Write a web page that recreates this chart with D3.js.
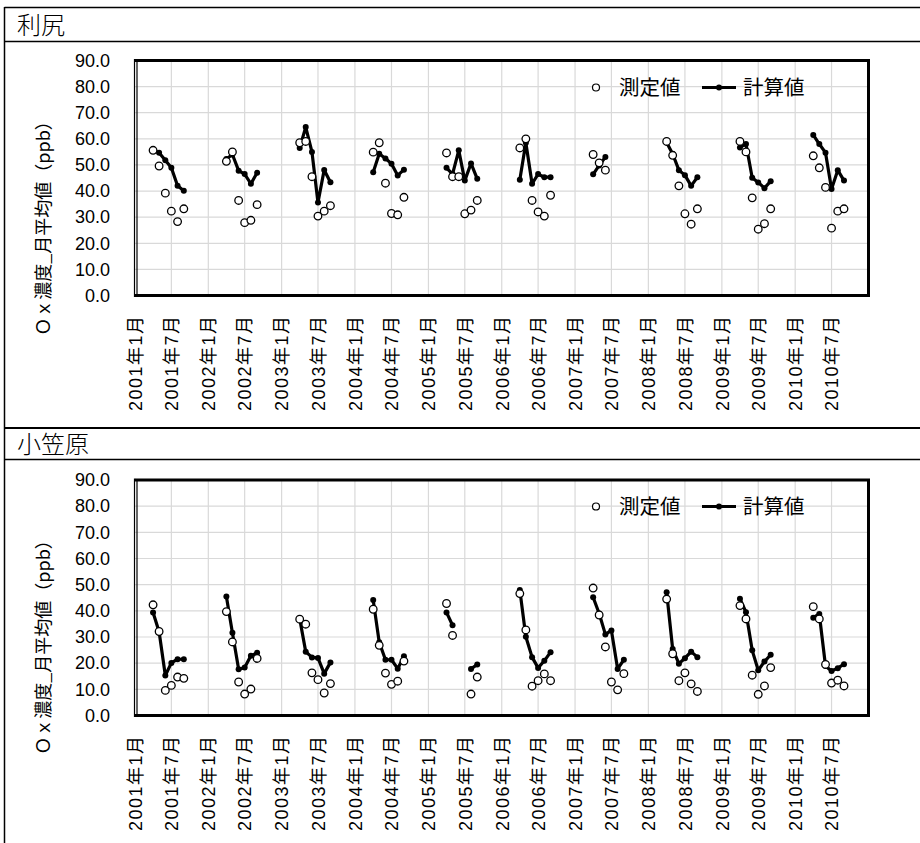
<!DOCTYPE html>
<html><head><meta charset="utf-8">
<script src="https://cdn.jsdelivr.net/npm/d3@7"></script>
<style>body{margin:0;background:#fff} svg{display:block}</style>
</head><body>
<svg id="c" width="920" height="843"></svg>
<script>
// ---------- data ----------
const years = [2001, 2002, 2003, 2004, 2005, 2006, 2007, 2008, 2009, 2010];
const months = [4, 5, 6, 7, 8, 9];
const xTickLabels = ["2001年1月","2001年7月","2002年1月","2002年7月","2003年1月","2003年7月",
  "2004年1月","2004年7月","2005年1月","2005年7月","2006年1月","2006年7月","2007年1月","2007年7月",
  "2008年1月","2008年7月","2009年1月","2009年7月","2010年1月","2010年7月"];
const yTicks = [0, 10, 20, 30, 40, 50, 60, 70, 80, 90];
const legendLabels = ["測定値", "計算値"];
const panelTitles = ["利尻", "小笠原"];
const yAxisTitle = "Ｏｘ濃度_月平均値（ppb）";

// 利尻 (Apr..Sep per year)
const rishiriMeasured = [
  55.6, 49.6, 39.2, 32.3, 28.3, 33.2,
  51.4, 55.0, 36.4, 27.9, 28.8, 34.8,
  58.5, 59.0, 45.5, 30.4, 32.3, 34.4,
  54.9, 58.5, 43.0, 31.4, 30.9, 37.6,
  54.6, 45.5, 45.5, 31.3, 32.7, 36.4,
  56.5, 60.0, 36.4, 32.0, 30.4, 38.4,
  54.0, 50.8, 48.0, null, null, null,
  59.0, 53.7, 42.0, 31.3, 27.3, 33.2,
  59.0, 55.0, 37.4, 25.4, 27.5, 33.2,
  53.5, 48.9, 41.4, 25.8, 32.3, 33.2
];
const rishiriCalc = [
  55.5, 54.7, 51.8, 48.9, 42.0, 40.1,
  52.3, 54.0, 47.8, 46.5, 42.8, 47.0,
  56.5, 64.5, 55.0, 35.6, 48.1, 43.4,
  47.2, 54.3, 52.5, 50.5, 46.0, 48.2,
  48.9, 46.5, 55.6, 44.0, 50.6, 44.7,
  44.3, 58.5, 42.8, 46.5, 45.3, 45.3,
  46.4, 49.8, 53.0, null, null, null,
  58.6, 54.2, 48.0, 46.1, 42.0, 45.3,
  56.7, 58.0, 45.1, 43.3, 41.1, 43.8,
  61.5, 58.0, 54.7, 40.8, 48.0, 44.0
];
// 小笠原
const ogasawaraMeasured = [
  42.3, 32.1, 9.6, 11.5, 14.7, 14.2,
  39.7, 28.1, 12.8, 8.2, 10.1, 21.8,
  36.8, 34.9, 16.3, 13.7, 8.6, 12.2,
  40.6, 26.8, 16.2, 11.9, 13.1, 20.8,
  42.8, 30.6, null, null, 8.2, 14.7,
  46.6, 32.7, 11.2, 13.3, 15.9, 13.3,
  48.7, 38.4, 26.2, 12.8, 9.8, 16.0,
  44.5, 23.6, 13.3, 16.3, 12.1, 9.2,
  42.0, 36.9, 15.4, 8.1, 11.3, 18.3,
  41.6, 36.9, 19.5, 12.4, 13.5, 11.3
];
const ogasawaraCalc = [
  39.4, 32.0, 15.3, 20.1, 21.5, 21.5,
  45.5, 31.6, 17.7, 18.3, 22.8, 24.0,
  37.0, 24.4, 22.2, 22.0, 16.0, 20.3,
  44.1, 28.0, 21.3, 21.3, 17.9, 22.6,
  39.4, 34.5, null, null, 17.8, 19.5,
  48.0, 30.1, 22.3, 18.2, 20.9, 24.2,
  45.2, 39.0, 31.0, 32.5, 17.8, 21.3,
  47.1, 25.4, 19.8, 21.9, 24.4, 22.3,
  44.6, 39.5, 24.9, 17.3, 20.6, 23.2,
  37.4, 38.8, 18.9, 17.0, 18.1, 19.6
];

// ---------- drawing ----------
const svg = d3.select("#c");
const W = 920, H = 843;
const CJK = "'Noto Sans CJK JP', 'Noto Sans', sans-serif";
const LAT = "'Liberation Sans', Arial, 'Noto Sans CJK JP', sans-serif";

// table frame
const frame = svg.append("g").attr("stroke", "#000").attr("fill", "none");
frame.append("line").attr("x1", 4.5).attr("x2", W).attr("y1", 7.5).attr("y2", 7.5).attr("stroke-width", 1.5);
frame.append("line").attr("x1", 4.5).attr("x2", 4.5).attr("y1", 7).attr("y2", H).attr("stroke-width", 1.5);
frame.append("line").attr("x1", 4.5).attr("x2", W).attr("y1", 41.5).attr("y2", 41.5).attr("stroke-width", 1.5);
frame.append("line").attr("x1", 4.5).attr("x2", W).attr("y1", 428).attr("y2", 428).attr("stroke-width", 2);
frame.append("line").attr("x1", 4.5).attr("x2", W).attr("y1", 459.5).attr("y2", 459.5).attr("stroke-width", 1.5);

const x = d3.scaleTime()
  .domain([new Date(2001, 0, 1), new Date(2011, 0, 1)])
  .range([135, 868.5]);
const tickDates = xTickLabels.map((_, i) => new Date(2001 + Math.floor(i / 2), (i % 2) * 6, 1));

const panels = [
  { title: panelTitles[0], titleY: 34, top: 60.5, bottom: 295.5, measured: rishiriMeasured, calc: rishiriCalc, legendY: 87.5, axisTitleY: 224 },
  { title: panelTitles[1], titleY: 453, top: 480, bottom: 715.5, measured: ogasawaraMeasured, calc: ogasawaraCalc, legendY: 506.5, axisTitleY: 643 }
];

function seriesByYear(vals) {
  return years.map((yr, i) => months.map((m, j) => ({ date: new Date(yr, m - 1, 1), v: vals[i * 6 + j] })));
}

panels.forEach(p => {
  const g = svg.append("g");
  const y = d3.scaleLinear().domain([0, 90]).range([p.bottom, p.top]);
  const [x0, x1] = x.range();

  // title
  g.append("text").attr("x", 17).attr("y", p.titleY)
    .attr("font-family", CJK).attr("font-size", 24).attr("font-weight", 300)
    .text(p.title);

  // gridlines
  const grid = g.append("g").attr("stroke", "#d9d9d9").attr("stroke-width", 1.2);
  grid.selectAll("line.h").data(yTicks.filter(t => t > 0 && t < 90)).join("line")
    .attr("x1", x0).attr("x2", x1).attr("y1", d => y(d)).attr("y2", d => y(d));
  grid.selectAll("line.v").data(tickDates.slice(1)).join("line")
    .attr("x1", d => x(d)).attr("x2", d => x(d)).attr("y1", p.top).attr("y2", p.bottom);

  // plot border
  g.append("path")
    .attr("d", `M${x0},${p.top}H${x1}V${p.bottom}H${x0}`)
    .attr("fill", "none").attr("stroke", "#000").attr("stroke-width", 3);
  g.append("line").attr("x1", x0 - 0.5).attr("x2", x0 - 0.5).attr("y1", p.top - 1.5).attr("y2", p.bottom + 1.5)
    .attr("stroke", "#000").attr("stroke-width", 1.2);
  g.append("line").attr("x1", x0 + 2).attr("x2", x0 + 2).attr("y1", p.top).attr("y2", p.bottom)
    .attr("stroke", "#000").attr("stroke-width", 1.2);

  // y axis labels
  const ya = g.append("g").attr("transform", `translate(${x0},0)`)
    .call(d3.axisLeft(y).tickValues(yTicks).tickSize(0).tickPadding(25).tickFormat(d3.format(".1f")));
  ya.select(".domain").remove();
  ya.selectAll("text").attr("font-family", LAT).attr("font-size", 18).attr("fill", "#000");

  // x axis labels
  const xa = g.append("g").attr("transform", `translate(0,${p.bottom})`)
    .call(d3.axisBottom(x).tickValues(tickDates).tickSize(0).tickFormat((d, i) => xTickLabels[i]));
  xa.select(".domain").remove();
  xa.selectAll("text")
    .attr("font-family", LAT).attr("font-size", 18).attr("fill", "#000")
    .attr("letter-spacing", 1.5)
    .attr("transform", "rotate(-90)")
    .attr("text-anchor", "end")
    .attr("x", -19).attr("y", 0).attr("dy", "0.35em");

  // y axis title
  g.append("text")
    .attr("transform", `translate(44,${p.axisTitleY}) rotate(-90)`)
    .attr("text-anchor", "middle").attr("dy", "0.35em")
    .attr("font-family", CJK).attr("font-size", 18)
    .text(yAxisTitle);

  // calculated lines
  const line = d3.line().defined(d => d.v != null).x(d => x(d.date)).y(d => y(d.v));
  const calcYears = seriesByYear(p.calc);
  const cg = g.append("g");
  cg.selectAll("path").data(calcYears).join("path")
    .attr("d", line).attr("fill", "none").attr("stroke", "#000")
    .attr("stroke-width", 3.2).attr("stroke-linejoin", "round").attr("stroke-linecap", "round");
  cg.selectAll("circle").data(calcYears.flat().filter(d => d.v != null)).join("circle")
    .attr("cx", d => x(d.date)).attr("cy", d => y(d.v)).attr("r", 3).attr("fill", "#000");

  // measured circles
  const mg = g.append("g");
  mg.selectAll("circle").data(seriesByYear(p.measured).flat().filter(d => d.v != null)).join("circle")
    .attr("cx", d => x(d.date)).attr("cy", d => y(d.v)).attr("r", 3.8)
    .attr("fill", "#fff").attr("stroke", "#000").attr("stroke-width", 1.3);

  // legend
  const lg = g.append("g");
  lg.append("circle").attr("cx", 596).attr("cy", p.legendY).attr("r", 3.5)
    .attr("fill", "#fff").attr("stroke", "#000").attr("stroke-width", 1.2);
  lg.append("text").attr("x", 619).attr("y", p.legendY).attr("dy", "0.36em")
    .attr("font-family", CJK).attr("font-size", 20.5).text(legendLabels[0]);
  lg.append("line").attr("x1", 702).attr("x2", 736).attr("y1", p.legendY).attr("y2", p.legendY)
    .attr("stroke", "#000").attr("stroke-width", 3.2);
  lg.append("circle").attr("cx", 719).attr("cy", p.legendY).attr("r", 3).attr("fill", "#000");
  lg.append("text").attr("x", 743).attr("y", p.legendY).attr("dy", "0.36em")
    .attr("font-family", CJK).attr("font-size", 20.5).text(legendLabels[1]);
});
</script>
</body></html>
